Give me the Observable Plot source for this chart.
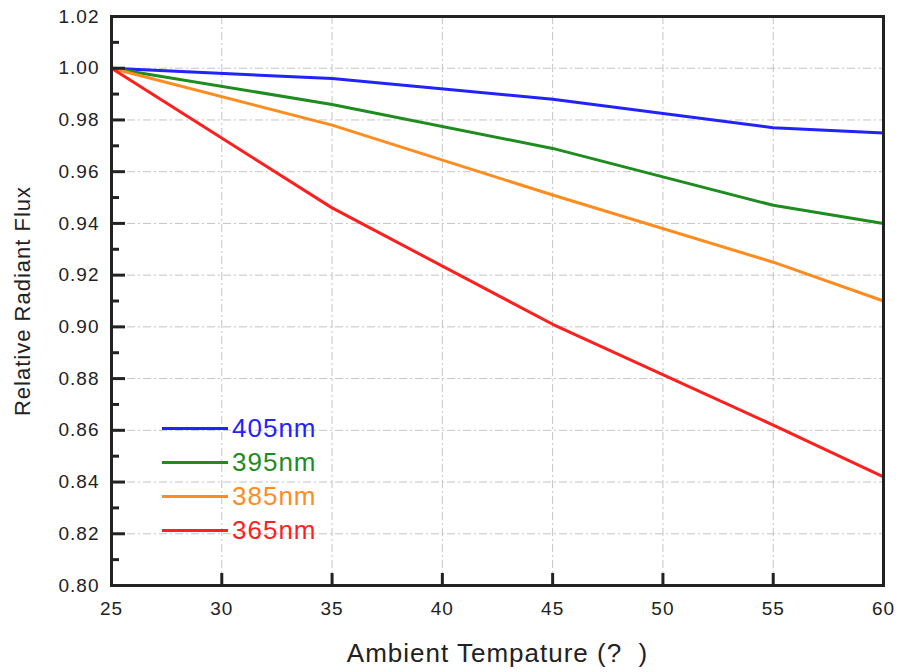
<!DOCTYPE html>
<html><head><meta charset="utf-8">
<script src="https://cdn.jsdelivr.net/npm/d3@7"></script>
<script src="https://cdn.jsdelivr.net/npm/@observablehq/plot@0.6"></script>
<style>
body{margin:0;background:#fff;}
#wrap{position:relative;width:898px;height:672px;font-family:"Liberation Sans",Arial,sans-serif;}
#wrap svg{position:absolute;left:0;top:0;}
#wrap svg text{letter-spacing:1px;}
#legend{position:absolute;left:162px;top:411px;}
.item{display:flex;align-items:center;height:34px;}
.swatch{width:66px;height:3px;margin-right:4px;}
.lab{font-size:26px;letter-spacing:1px;line-height:34px;}
</style></head><body>
<div id="wrap"><div id="legend"></div></div>
<script>
const temps = [25, 35, 45, 55, 60];
const series = ["405nm", "395nm", "385nm", "365nm"];
const colors = ["#2222ff", "#1f8c1f", "#ff8c1f", "#ff1f1f"];
const flux405 = [1.000, 0.996, 0.988, 0.977, 0.975];
const flux395 = [1.000, 0.986, 0.969, 0.947, 0.940];
const flux385 = [1.000, 0.978, 0.951, 0.925, 0.910];
const flux365 = [1.000, 0.946, 0.901, 0.862, 0.842];
const xTicks = [25, 30, 35, 40, 45, 50, 55, 60];
const yTicks = [0.80, 0.82, 0.84, 0.86, 0.88, 0.90, 0.92, 0.94, 0.96, 0.98, 1.00, 1.02];
const yMinor = [0.81, 0.83, 0.85, 0.87, 0.89, 0.91, 0.93, 0.95, 0.97, 0.99, 1.01];
const xLabel = "Ambient Tempature (?  )";
const yLabel = "Relative Radiant Flux";

const values = [flux405, flux395, flux385, flux365];
const data = series.flatMap((s, i) => temps.map((t, j) => ({series: s, temp: t, flux: values[i][j]})));

const gridStyle = {stroke: "#c4c4c4", strokeOpacity: 1, strokeWidth: 1, strokeDasharray: "8,3,2,3"};
const ink = "#222";

const chart = Plot.plot({
  width: 898, height: 672,
  marginLeft: 111, marginRight: 15, marginTop: 16, marginBottom: 87,
  style: {fontFamily: "'Liberation Sans', Arial, sans-serif", background: "transparent", overflow: "visible"},
  x: {domain: [25, 60]},
  y: {domain: [0.80, 1.02]},
  color: {domain: series, range: colors},
  marks: [
    Plot.gridX(xTicks.slice(1, -1), gridStyle),
    Plot.gridY(yTicks.slice(1, -1), gridStyle),
    Plot.line(data, {x: "temp", y: "flux", stroke: "series", strokeWidth: 3}),
    Plot.axisX(xTicks, {tickSize: -12, strokeWidth: 3, stroke: ink, tickFormat: () => "", label: null}),
    Plot.axisX(xTicks, {tickSize: 0, tickPadding: 16, fontSize: 19, fill: ink, label: null}),
    Plot.axisY(yTicks, {tickSize: -14, strokeWidth: 3, stroke: ink, tickFormat: () => "", label: null}),
    Plot.axisY(yMinor, {tickSize: -8, strokeWidth: 3, stroke: ink, tickFormat: () => "", label: null}),
    Plot.axisY(yTicks, {tickSize: 0, tickPadding: 12, fontSize: 19, fill: ink, tickFormat: d => d.toFixed(2), label: null}),
    Plot.frame({stroke: ink, strokeWidth: 3}),
    Plot.text([xLabel], {text: d => d, frameAnchor: "bottom", dy: 68, fontSize: 26, fill: ink, textAnchor: "middle", lineAnchor: "middle"}),
    Plot.text([yLabel], {text: d => d, frameAnchor: "left", dx: -89, rotate: -90, fontSize: 22, fill: ink, textAnchor: "middle", lineAnchor: "middle"})
  ]
});
const wrap = document.getElementById("wrap");
wrap.insertBefore(chart, wrap.firstChild);

const legend = document.getElementById("legend");
series.forEach((s, i) => {
  const item = document.createElement("div");
  item.className = "item";
  const sw = document.createElement("div");
  sw.className = "swatch";
  sw.style.background = colors[i];
  const lab = document.createElement("span");
  lab.className = "lab";
  lab.style.color = colors[i];
  lab.textContent = s;
  item.appendChild(sw); item.appendChild(lab);
  legend.appendChild(item);
});
</script>
</body></html>
